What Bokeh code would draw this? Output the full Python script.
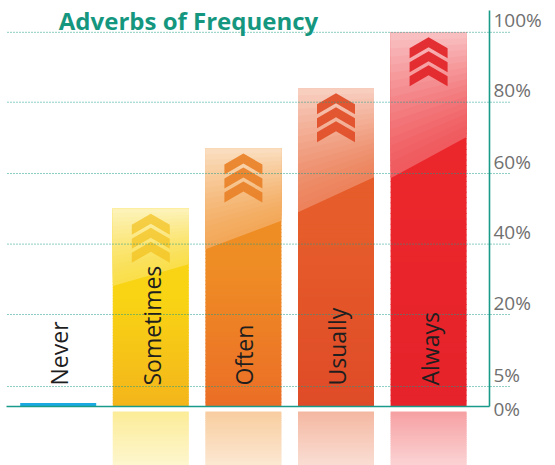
import numpy as np
from bokeh.plotting import figure
from bokeh.models import Range1d
from bokeh.core.properties import value
from bokeh.embed import file_html
from bokeh.resources import INLINE

# ---------------- data ----------------
categories = ["Never", "Sometimes", "Often", "Usually", "Always"]
frequency = [0, 50, 67, 84, 100]
tick_values = [0, 5, 20, 40, 60, 80, 100]
tick_labels = ["0%", "5%", "20%", "40%", "60%", "80%", "100%"]
title_text = "Adverbs of Frequency"

# ---------------- style ----------------
bar_mid = ["#1aa9e1", "#f8d414", "#ef8d25", "#e65c2a", "#eb272c"]
bar_low = ["#1aa9e1", "#f4b51b", "#eb6e26", "#df4b28", "#e6222a"]
chevron_col = ["#1aa9e1", "#f2c01c", "#e98026", "#e0502a", "#e2272b"]
chevron_alpha = [0, 0.7, 0.9, 0.95, 0.95]
TEAL = "#1a9b8a"
TITLE_COL = "#15977f"
TICK_COL = "#707070"

# ---------------- layout ----------------
W, H = 555, 465
PX_X, X0 = 92.6, 57.7          # px per category slot, px of first slot centre
PX_Y, BASE = 70.6, 406         # px per scale slot, px of 0% from the top
SCALE_SLOTS = [0, 0.283, 1.303, 2.30, 3.30, 4.31, 5.30]  # broken scale: 0-5% is a short step


def ymap(v):
    return np.interp(v, tick_values, SCALE_SLOTS)


def dx(px):
    return px / PX_X


def dy(px):
    return px / PX_Y


def xpix(px):
    return (px - X0) / PX_X


def ypix(py):
    return (BASE - py) / PX_Y


def rgb(h):
    h = h.lstrip("#")
    return np.array([int(h[i:i + 2], 16) for i in (0, 2, 4)], dtype=float)


def hexc(c):
    c = np.clip(np.round(c), 0, 255).astype(int)
    return "#%02x%02x%02x" % tuple(c)


def mix(a, b, t):
    return hexc(rgb(a) * (1 - t) + rgb(b) * t)


def on_white(c, a):
    return hexc(np.array([255.0, 255.0, 255.0]) * (1 - a) + rgb(c) * a)


p = figure(width=W, height=H,
           x_range=Range1d(-X0 / PX_X, (W - X0) / PX_X),
           y_range=Range1d(-(H - BASE) / PX_Y, BASE / PX_Y),
           output_backend="svg", toolbar_location=None,
           x_axis_location=None, y_axis_location=None,
           min_border=0, outline_line_color=None,
           background_fill_color="white", border_fill_color="white")
p.grid.visible = False
p.xgrid.grid_line_color = None
p.ygrid.grid_line_color = None

xs = np.arange(len(categories), dtype=float)
BW = dx(76)

sl, sr, sb, st, sc = [], [], [], [], []
gloss_xs, gloss_ys, gloss_c = [], [], []
chev_xs, chev_ys, chev_c, chev_a = [], [], [], []
zero_x = []

N = 70
NR = 26
for i, v in enumerate(frequency):
    c = xs[i]
    top = float(ymap(v))
    if v == 0:
        zero_x.append(c)
        continue
    left, right = c - BW / 2, c + BW / 2
    # body gradient: darker at the base, base colour from 55% upwards
    for j in range(N):
        y0 = top * j / N
        y1 = top * (j + 1) / N + (dy(1.0) if j < N - 1 else 0)
        t = min(1.0, ((j + 0.5) / N) / 0.55)
        sl.append(left); sr.append(right); sb.append(y0); st.append(y1)
        sc.append(mix(bar_low[i], bar_mid[i], t))
    # reflection below the baseline
    r_top = -dy(5)
    r_bot = -dy(60)
    for j in range(NR):
        y1 = r_top + (r_bot - r_top) * j / NR
        y0 = r_top + (r_bot - r_top) * (j + 1) / NR - dy(1.0)
        a = 0.44 - 0.24 * (j + 0.5) / NR
        sl.append(left); sr.append(right); sb.append(y0); st.append(y1)
        sc.append(on_white(bar_mid[i], a))
    # glossy top with a slanted lower edge (nested opaque bands)
    hgt = top
    dl, dr = 0.39 * hgt, 0.28 * hgt
    K = 18
    for k in range(K):
        f = 1 - k / K
        a = 0.24 + 0.46 * (k / (K - 1)) ** 1.3
        gloss_xs.append([left, right, right, left])
        gloss_ys.append([top, top, top - dr * f, top - dl * f])
        gloss_c.append(mix(bar_mid[i], "#ffffff", a))
    # chevrons
    cw, ch, ct, sp = 38, 11, 10, 14
    y_start = top - dy(5)
    for m in range(3):
        ay = y_start - dy(sp * m)
        pts_x = [0, cw / 2, cw / 2, 0, -cw / 2, -cw / 2]
        pts_y = [0, ch, ch + ct, ct, ch + ct, ch]
        chev_xs.append([c + dx(px) for px in pts_x])
        chev_ys.append([ay - dy(py) for py in pts_y])
        chev_c.append(chevron_col[i])
        chev_a.append(chevron_alpha[i])

# bar bodies + reflections
p.quad(left=sl, right=sr, bottom=sb, top=st, fill_color=sc, line_color=None)
# gloss
p.patches(xs=gloss_xs, ys=gloss_ys, fill_color=gloss_c, line_color=None)
# chevrons
p.patches(xs=chev_xs, ys=chev_ys, fill_color=chev_c, fill_alpha=chev_a, line_color=None)
# zero-valued bar shown as a thin line
p.vbar(x=zero_x, width=BW, bottom=0, top=dy(3.5), fill_color=bar_mid[0], line_color=None)

# dotted gridlines
gv = [t for t in tick_values if t > 0]
p.segment(x0=[xpix(7)] * len(gv), x1=[xpix(509)] * len(gv),
          y0=list(ymap(gv)), y1=list(ymap(gv)),
          line_color=TEAL, line_width=1.0, line_dash="1 2", line_alpha=1.0)

# axis lines
p.segment(x0=[xpix(6), xpix(489)], x1=[xpix(489), xpix(489)],
          y0=[0, 0], y1=[0, ypix(10)], line_color=TEAL, line_width=1.6)

# category labels (rotated, inside bars)
p.text(x=list(xs + dx(1)), y=[dy(21)] * len(categories), text=categories,
       angle=np.pi / 2, text_align="left", text_baseline="middle",
       text_font=value("Open Sans"), text_font_size="23px", text_color="#1e1e1e")

# tick labels on the right
offs = np.array([-2.5 if t == 0 else 12 for t in tick_values])
p.text(x=[xpix(493)] * len(tick_values), y=list(ymap(tick_values) + dy(offs)),
       text=tick_labels, text_align="left", text_baseline="middle",
       text_font=value("Open Sans"), text_font_size="19px", text_color=TICK_COL)

# title
p.text(x=[xpix(188)], y=[ypix(20)], text=[title_text], text_align="center",
       text_baseline="alphabetic", text_font=value("Open Sans"),
       text_font_style="bold", text_font_size="24px", text_color=TITLE_COL)

open("out.html", "w").write(file_html(p, INLINE))
